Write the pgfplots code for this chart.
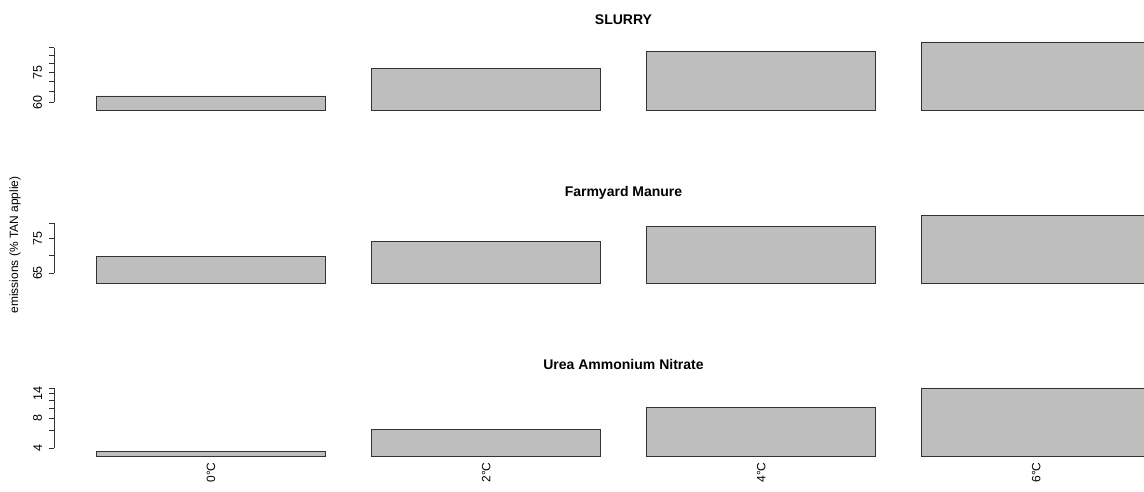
\documentclass[border=0pt]{standalone}
\usepackage{fontspec}
\setmainfont{Liberation Sans}
\usepackage{pgfplots}
\pgfplotsset{compat=1.18}
\definecolor{barfill}{HTML}{BEBEBE}
\definecolor{edge}{HTML}{333333}
\pgfplotsset{
  panel/.style={
    scale only axis, width=1089.6pt, height=71pt,
    xmin=0.016, xmax=4.770,
    axis lines*=left, axis line style={draw=none},
    clip=false,
    ybar, bar width=1,
    tick align=outside, major tick length=5.5pt,
    ytick pos=left,
    tick style={edge, line width=0.8pt},
    xtick=\empty,
    yticklabel style={rotate=90, anchor=south, inner xsep=0pt, inner ysep=6.5pt, font=\fontsize{12.5}{14}\selectfont},
    xticklabel style={rotate=90, anchor=east, inner sep=0pt, font=\fontsize{12}{14}\selectfont},
    /pgf/number format/assume math mode=true,
  },
  barsty/.style={fill=barfill, draw=edge, line width=0.9pt},
}
\begin{document}
\begin{tikzpicture}[x=1pt,y=1pt]
\useasboundingbox (0,0) rectangle (1144,492);
% SLURRY
\begin{axis}[ymode=log, log origin=infty, panel, at={(54.3pt,382pt)}, anchor=south west,
  ymin=56.7, ymax=96.0,
  ytick={60,65,70,75,80,85,90}, yticklabels={60,,,75,,,}]
\addplot[barsty] coordinates {(0.7,62.9) (1.9,77.4) (3.1,87.8) (4.3,93.9)};
\end{axis}
% Farmyard Manure
\begin{axis}[ymode=log, log origin=infty, panel, at={(54.3pt,208.7pt)}, anchor=south west,
  ymin=62.3, ymax=83.6,
  ytick={65,70,75,80}, yticklabels={65,,75,}]
\addplot[barsty] coordinates {(0.7,69.75) (1.9,74.2) (3.1,78.7) (4.3,82.4)};
\end{axis}
% Urea Ammonium Nitrate
\begin{axis}[ymode=log, log origin=infty, panel, at={(54.3pt,35.3pt)}, anchor=south west,
  ymin=3.27, ymax=16.86,
  ytick={4,6,8,10,12,14,16}, yticklabels={4,,8,,,14,},
  xtick={0.7,1.9,3.1,4.3}, xticklabels={0°C,2°C,4°C,6°C},
  x tick style={draw=none}]
\addplot[barsty] coordinates {(0.7,3.73) (1.9,6.2) (3.1,10.1) (4.3,16.0)};
\end{axis}
\draw[edge, line width=0.8pt] (54.3,389.63) -- (54.3,444.29);
\draw[edge, line width=0.8pt] (54.3,218.95) -- (54.3,269.08);
\draw[edge, line width=0.8pt] (54.3,44.02) -- (54.3,104.04);
\node[font=\bfseries\fontsize{14}{16}\selectfont] at (623.5,472) {SLURRY};
\node[font=\bfseries\fontsize{14}{16}\selectfont] at (623.5,298.7) {Farmyard Manure};
\node[font=\bfseries\fontsize{14}{16}\selectfont] at (623.5,127) {Urea Ammonium Nitrate};
\node[rotate=90, font=\fontsize{12}{14}\selectfont] at (15,247) {emissions (\% TAN applie)};
\end{tikzpicture}
\end{document}
